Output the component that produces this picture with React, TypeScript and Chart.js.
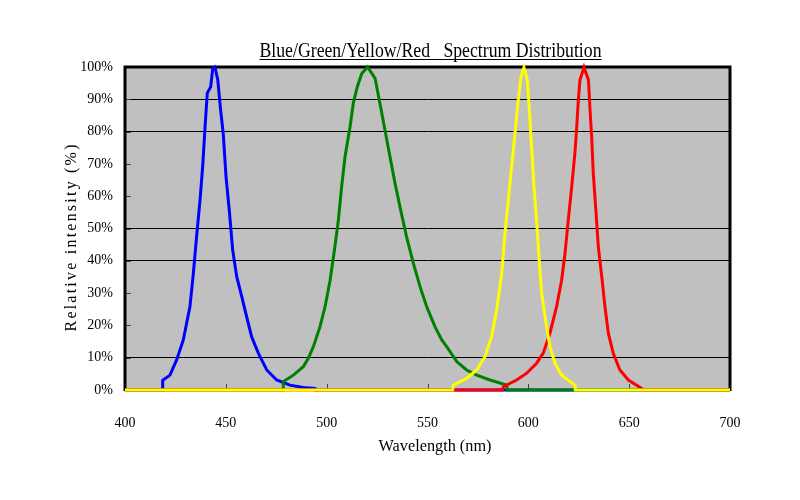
import React, { useEffect, useRef } from "react";
import { Chart, registerables } from "chart.js";

Chart.register(...registerables);

const TITLE = "Blue/Green/Yellow/Red   Spectrum Distribution";
const X_TITLE = "Wavelength (nm)";
const Y_TITLE = "Relative intensity (%)";

const X_MIN = 400;
const X_MAX = 700;
const X_STEP = 50;
const Y_MIN = 0;
const Y_MAX = 100;
const Y_STEP = 10;
const Y_GRID_SHOWN = [10, 40, 50, 80, 90];

const blueNm = [400, 418.5, 418.7, 422.3, 425.6, 428.9, 432.2, 433.9, 435.5, 437.2, 438.5, 439.7, 440.8, 442.5, 443.5, 444.6, 446.0, 447.4, 448.7, 450.1, 451.7, 453.4, 455.4, 457.9, 460.3, 462.8, 466.1, 470.3, 475.2, 481.8, 488.4, 494.2, 494.5, 700];
const blueVal = [0, 0, 3.0, 4.6, 9.3, 15.5, 25.8, 36.2, 47.5, 58.8, 69.1, 81.5, 91.9, 93.9, 99.6, 100, 96, 86.7, 79.5, 66, 55.7, 43.3, 35.1, 28.9, 22.7, 16.5, 11.4, 6.2, 3.1, 1.5, 0.8, 0.5, 0, 0];

const greenNm = [400, 478.5, 478.5, 483.5, 488.4, 490.9, 493.4, 496.7, 499.2, 501.7, 504.1, 505.8, 507.4, 509.1, 511.6, 513.2, 515.2, 517.4, 520.3, 524.0, 526.4, 528.9, 531.4, 533.9, 536.7, 539.6, 543.0, 546.3, 549.6, 553.7, 557.0, 559.5, 564.5, 569.4, 574.4, 581.0, 589.3, 589.5, 700];
const greenVal = [0, 0, 2.6, 4.6, 7.2, 9.8, 13.4, 19.6, 25.8, 34, 44.4, 52.6, 62.9, 72.2, 81.5, 88.8, 93.9, 98, 100, 96.5, 88.8, 80.5, 72.2, 64, 55.7, 47.5, 39.2, 32, 25.8, 19.6, 15.6, 13.4, 8.8, 6.2, 4.6, 3.1, 1.5, 0, 0];

const redNm = [400, 587.2, 587.6, 594.2, 599.2, 604.1, 607.4, 610.7, 614.0, 616.5, 618.2, 619.8, 621.5, 623.1, 624.0, 624.8, 625.6, 627.6, 629.8, 630.6, 631.4, 632.2, 633.6, 634.7, 636.4, 638.0, 639.7, 642.1, 645.4, 649.6, 653.7, 656.2, 656.5, 700];
const redVal = [0, 0, 1, 3.1, 5.2, 8.3, 11.4, 17.5, 25.8, 34, 42.3, 52.6, 62.9, 73.3, 81.5, 89.8, 96, 99.9, 96, 86.7, 78.4, 67.1, 54.7, 44.4, 35.1, 25.8, 17.5, 11.4, 6.2, 3.1, 1.5, 0.5, 0, 0];

const yellowNm = [400, 562.5, 562.8, 569.4, 574.4, 578.5, 581.8, 584.3, 586.8, 588.4, 590.1, 591.7, 593.4, 595.0, 596.4, 597.8, 599.5, 600.5, 601.6, 602.8, 604.1, 605.4, 606.6, 608.8, 610.7, 613.2, 616.5, 620.7, 623.1, 623.3, 700];
const yellowVal = [0, 0, 1.5, 3.6, 6.2, 10.3, 16.5, 24.8, 36.1, 48.5, 58.8, 69.1, 79.5, 89.8, 97, 99.9, 96, 86.7, 75.3, 62.9, 52.6, 40.2, 29.9, 20.6, 13.4, 8.3, 4.6, 2.6, 1.5, 0, 0];

const toPoints = (xs: number[], ys: number[]) => xs.map((x, i) => ({ x, y: ys[i] }));

const SERIF = "'Liberation Serif', 'Times New Roman', serif";

const decorPlugin = {
  id: "decor",
  beforeDraw(chart: any) {
    const { ctx, chartArea: a } = chart;
    ctx.save();
    ctx.fillStyle = "#C0C0C0";
    ctx.fillRect(a.left, a.top, a.right - a.left, a.bottom - a.top);
    ctx.restore();
  },
  beforeDatasetsDraw(chart: any) {
    const { ctx, chartArea: a, scales } = chart;
    ctx.save();
    // inner tick marks
    ctx.strokeStyle = "#444";
    ctx.lineWidth = 1;
    for (let v = Y_MIN + Y_STEP; v < Y_MAX; v += Y_STEP) {
      const y = Math.round(scales.y.getPixelForValue(v)) + 0.5;
      ctx.beginPath();
      ctx.moveTo(a.left, y);
      ctx.lineTo(a.left + 6, y);
      ctx.stroke();
    }
    for (let v = X_MIN + X_STEP; v < X_MAX; v += X_STEP) {
      const x = Math.round(scales.x.getPixelForValue(v)) + 0.5;
      ctx.beginPath();
      ctx.moveTo(x, a.bottom);
      ctx.lineTo(x, a.bottom - 6);
      ctx.stroke();
    }
    // frame
    ctx.strokeStyle = "#000";
    ctx.lineWidth = 2;
    ctx.beginPath();
    ctx.moveTo(a.left, a.bottom);
    ctx.lineTo(a.right, a.bottom);
    ctx.stroke();
    ctx.lineWidth = 3;
    ctx.beginPath();
    ctx.moveTo(a.left, a.bottom + 1);
    ctx.lineTo(a.left, a.top);
    ctx.lineTo(a.right, a.top);
    ctx.lineTo(a.right, a.bottom + 1);
    ctx.stroke();
    ctx.restore();
  },
  afterDraw(chart: any) {
    const { ctx, chartArea: a } = chart;
    ctx.save();
    ctx.fillStyle = "#000";
    ctx.strokeStyle = "#000";

    // Title, condensed to fit width
    ctx.font = `20px ${SERIF}`;
    ctx.textAlign = "center";
    ctx.textBaseline = "alphabetic";
    const tw = ctx.measureText(TITLE).width;
    const targetW = 342;
    const cx = 430.5;
    ctx.save();
    ctx.translate(cx, 57);
    ctx.scale(targetW / tw, 1);
    ctx.fillText(TITLE, 0, 0);
    ctx.restore();
    ctx.lineWidth = 1.2;
    ctx.beginPath();
    ctx.moveTo(cx - targetW / 2, 59.5);
    ctx.lineTo(cx + targetW / 2, 59.5);
    ctx.stroke();

    // X title
    ctx.font = `17px ${SERIF}`;
    const xw = ctx.measureText(X_TITLE).width;
    ctx.save();
    ctx.translate(435, 451);
    ctx.scale(113 / xw, 1);
    ctx.fillText(X_TITLE, 0, 0);
    ctx.restore();

    // Y title, rotated with letter spacing
    ctx.font = `16px ${SERIF}`;
    ctx.save();
    const n = Y_TITLE.length;
    (ctx as any).letterSpacing = "0px";
    const yw = ctx.measureText(Y_TITLE).width;
    const sp = Math.max(0, (187 - yw) / (n - 1));
    (ctx as any).letterSpacing = `${sp}px`;
    ctx.translate(76, 238);
    ctx.rotate(-Math.PI / 2);
    ctx.textAlign = "left";
    ctx.fillText(Y_TITLE, -187 / 2, 0);
    ctx.restore();

    ctx.restore();
  },
};

export default function App() {
  const ref = useRef<HTMLCanvasElement | null>(null);

  useEffect(() => {
    if (!ref.current) return;
    const lineDs = (label: string, color: string, xs: number[], ys: number[]) => ({
      label,
      data: toPoints(xs, ys),
      borderColor: color,
      backgroundColor: color,
      borderWidth: 3,
      pointRadius: 0,
      tension: 0,
      fill: false,
      clip: 6,
    });
    const chart = new Chart(ref.current, {
      type: "line",
      data: {
        datasets: [
          lineDs("Yellow", "#FFFF00", yellowNm, yellowVal),
          lineDs("Red", "#FF0000", redNm, redVal),
          lineDs("Green", "#008000", greenNm, greenVal),
          lineDs("Blue", "#0000FF", blueNm, blueVal),
        ],
      },
      options: {
        animation: false,
        responsive: true,
        maintainAspectRatio: false,
        layout: { padding: { top: 67, right: 70, left: 0, bottom: 0 } },
        plugins: {
          legend: { display: false },
          title: { display: false },
          tooltip: { enabled: false },
        },
        scales: {
          x: {
            type: "linear",
            min: X_MIN,
            max: X_MAX,
            border: { display: false },
            grid: { display: false, drawTicks: false },
            ticks: {
              stepSize: X_STEP,
              color: "#000",
              font: { family: SERIF, size: 14 },
              padding: 25,
              maxRotation: 0,
            },
            afterFit: (s: any) => {
              s.height = 110;
            },
          },
          y: {
            type: "linear",
            min: Y_MIN,
            max: Y_MAX,
            border: { display: false },
            grid: {
              drawTicks: false,
              lineWidth: 1,
              color: (c: any) =>
                Y_GRID_SHOWN.includes(c.tick?.value) ? "#000" : "rgba(0,0,0,0)",
            },
            ticks: {
              stepSize: Y_STEP,
              color: "#000",
              font: { family: SERIF, size: 14 },
              padding: 12,
              callback: (v: any) => `${v}%`,
            },
            afterFit: (s: any) => {
              s.width = 125;
            },
          },
        },
      },
      plugins: [decorPlugin],
    });
    return () => chart.destroy();
  }, []);

  return (
    <div style={{ position: "fixed", left: 0, top: 0, width: 800, height: 500, background: "#fff" }}>
      <canvas ref={ref} />
    </div>
  );
}
